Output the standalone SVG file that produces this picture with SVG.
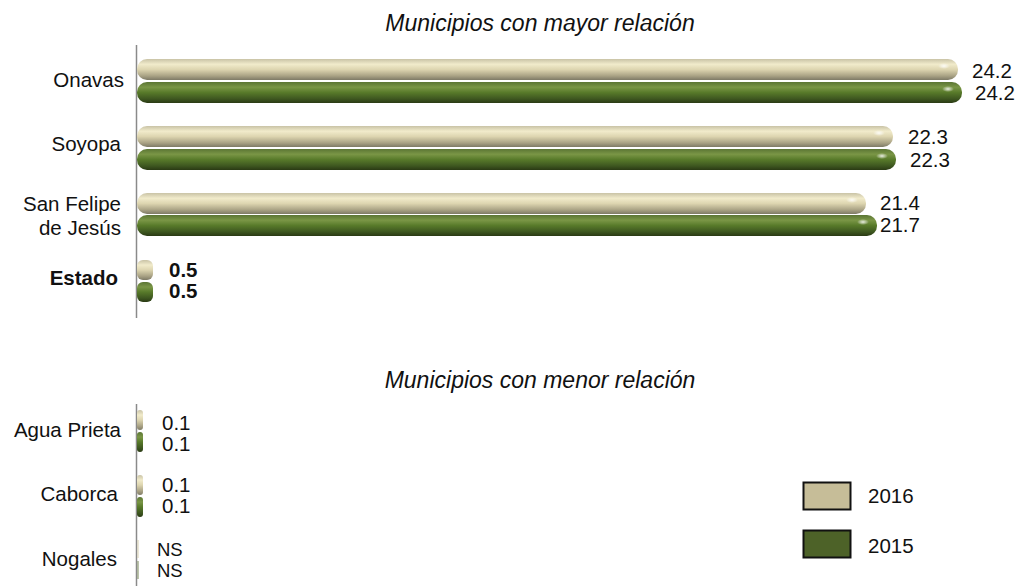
<svg xmlns="http://www.w3.org/2000/svg" width="1020" height="586" viewBox="0 0 1020 586">
<defs>
<linearGradient id="gTan" x1="0" y1="0" x2="0" y2="1">
<stop offset="0" stop-color="#c9c3a6"/>
<stop offset="0.25" stop-color="#f1ebcb"/>
<stop offset="0.5" stop-color="#ddd5b0"/>
<stop offset="0.8" stop-color="#aaa385"/>
<stop offset="1" stop-color="#7e7a66"/>
</linearGradient>
<linearGradient id="gGreen" x1="0" y1="0" x2="0" y2="1">
<stop offset="0" stop-color="#5b7534"/>
<stop offset="0.25" stop-color="#7a9646"/>
<stop offset="0.5" stop-color="#587a2a"/>
<stop offset="0.8" stop-color="#3e5720"/>
<stop offset="1" stop-color="#2a3a14"/>
</linearGradient>
<radialGradient id="hl" cx="0.5" cy="0.5" r="0.5">
<stop offset="0" stop-color="#ffffff" stop-opacity="0.85"/>
<stop offset="1" stop-color="#ffffff" stop-opacity="0"/>
</radialGradient>
<style>
.t{font-family:"Liberation Sans",Arial,sans-serif;font-size:20.5px;fill:#111}
.l{text-anchor:end}
.b{font-weight:bold}
.s{font-size:18.5px}
.ti{font-style:italic;text-anchor:middle;font-size:23px}
.tan{fill:url(#gTan)}
.grn{fill:url(#gGreen)}
.ax{stroke:#8a8a8a;stroke-width:1.5;fill:none}
.hl{fill:url(#hl)}
</style>
</defs>
<rect width="1020" height="586" fill="#fff"/>
<text class="t ti" x="540" y="31">Municipios con mayor relación</text>
<text class="t ti" x="540" y="388">Municipios con menor relación</text>
<g id="axes">
<line class="ax" x1="136.5" y1="45" x2="136.5" y2="318"/>
<line class="ax" x1="136.5" y1="404" x2="136.5" y2="586"/>
</g>
<g id="onavas">
<text class="t l" x="124" y="87">Onavas</text>
<rect class="tan" x="137" y="59" width="821" height="21" rx="10"/>
<ellipse class="hl" cx="944" cy="66" rx="6" ry="3"/>
<rect class="grn" x="137" y="82" width="825" height="21" rx="10"/>
<ellipse class="hl" cx="948" cy="89" rx="6" ry="3"/>
<text class="t" x="972" y="78">24.2</text>
<text class="t" x="975" y="100">24.2</text>
</g>
<g id="soyopa">
<text class="t l" x="121" y="151">Soyopa</text>
<rect class="tan" x="137" y="126" width="756" height="21" rx="10"/>
<ellipse class="hl" cx="879" cy="133" rx="6" ry="3"/>
<rect class="grn" x="137" y="149" width="759" height="21" rx="10"/>
<ellipse class="hl" cx="882" cy="156" rx="6" ry="3"/>
<text class="t" x="908" y="144">22.3</text>
<text class="t" x="910" y="167">22.3</text>
</g>
<g id="sanfelipe">
<text class="t l" x="121" y="211">San Felipe</text>
<text class="t l" x="121" y="235">de Jesús</text>
<rect class="tan" x="137" y="193" width="729" height="21" rx="10"/>
<ellipse class="hl" cx="852" cy="200" rx="6" ry="3"/>
<rect class="grn" x="137" y="215" width="740" height="21" rx="10"/>
<ellipse class="hl" cx="863" cy="222" rx="6" ry="3"/>
<text class="t" x="880" y="210">21.4</text>
<text class="t" x="880" y="232">21.7</text>
</g>
<g id="estado">
<text class="t l b" x="118" y="285">Estado</text>
<rect class="tan" x="137" y="260" width="16" height="20" rx="6"/>
<rect class="grn" x="137" y="282" width="16" height="20" rx="6"/>
<text class="t b" x="169" y="277">0.5</text>
<text class="t b" x="169" y="298">0.5</text>
</g>
<g id="aguaprieta">
<text class="t l" x="121" y="437">Agua Prieta</text>
<rect class="tan" x="137" y="410" width="6" height="20" rx="3"/>
<rect class="grn" x="137" y="432" width="6" height="20" rx="3"/>
<text class="t" x="162" y="430">0.1</text>
<text class="t" x="162" y="451">0.1</text>
</g>
<g id="caborca">
<text class="t l" x="118" y="501">Caborca</text>
<rect class="tan" x="137" y="475" width="6" height="20" rx="3"/>
<rect class="grn" x="137" y="497" width="6" height="20" rx="3"/>
<text class="t" x="162" y="492">0.1</text>
<text class="t" x="162" y="513">0.1</text>
</g>
<g id="nogales">
<text class="t l" x="117" y="566">Nogales</text>
<line x1="138" y1="540" x2="138" y2="558" stroke="#d8d0b0" stroke-width="1"/>
<line x1="138" y1="561" x2="138" y2="579" stroke="#7a8a5a" stroke-width="1"/>
<text class="t s" x="157" y="556">NS</text>
<text class="t s" x="157" y="577">NS</text>
</g>
<g id="legend">
<rect x="803.5" y="482.5" width="47" height="27" fill="#c6bd98" stroke="#111" stroke-width="2"/>
<text class="t" x="868" y="503">2016</text>
<rect x="803.5" y="530.5" width="47" height="27" fill="#4d6228" stroke="#111" stroke-width="2"/>
<text class="t" x="868" y="553">2015</text>
</g>
</svg>
